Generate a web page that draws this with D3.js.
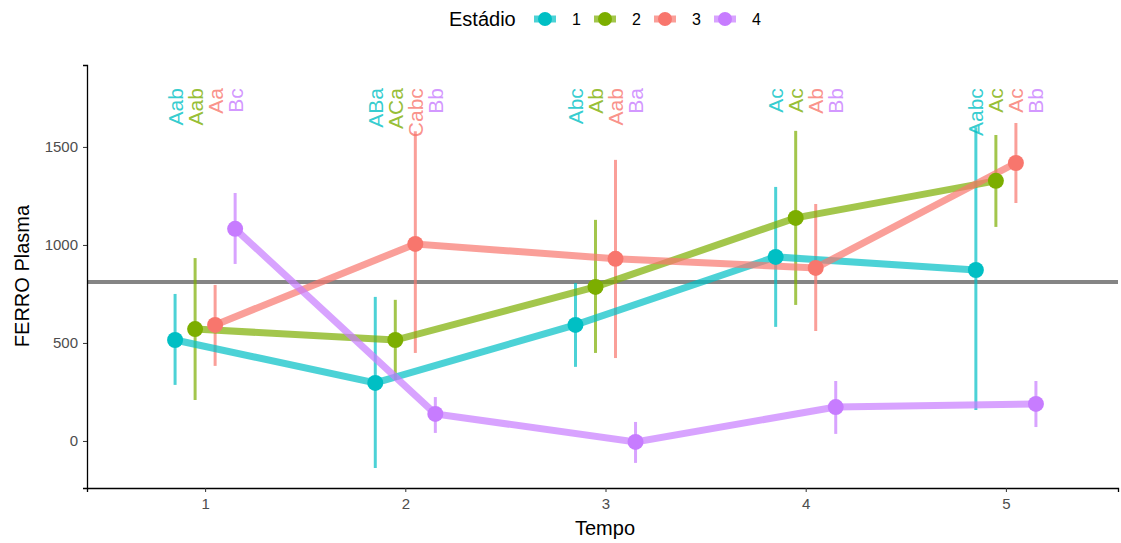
<!DOCTYPE html>
<html>
<head>
<meta charset="utf-8">
<script src="https://cdn.jsdelivr.net/npm/d3@7"></script>
<style>
  body { margin: 0; background: #fff; }
  text { font-family: "Liberation Sans", Arial, sans-serif; }
</style>
</head>
<body>
<svg id="chart" width="1121" height="543"></svg>
<script>
// data
var tempos = [1, 2, 3, 4, 5];
var estadios = ["1", "2", "3", "4"];
var cores = ["#00BFC4", "#7CAE00", "#F8766D", "#C77CFF"];

// mean, lower, upper per tempo for each estadio
var media1 = [515, 296, 592, 939, 872];
var inf1   = [286, -138, 378, 582, 158];
var sup1   = [750, 735, 806, 1296, 1600];

var media2 = [571, 515, 786, 1138, 1327];
var inf2   = [209, 311, 449, 694, 1092];
var sup2   = [933, 720, 1128, 1582, 1561];

var media3 = [592, 1005, 929, 883, 1418];
var inf3   = [383, 449, 423, 561, 1214];
var sup3   = [796, 1580, 1434, 1209, 1622];

var media4 = [1082, 138, -5, 173, 189];
var inf4   = [903, 41, -112, 36, 71];
var sup4   = [1265, 224, 97, 306, 306];

var letras1 = ["Aab", "ABa", "Abc", "Ac", "Aabc"];
var letras2 = ["Aab", "ACa", "Ab", "Ac", "Ac"];
var letras3 = ["Aa", "Cabc", "Aab", "Ab", "Ac"];
var letras4 = ["Bc", "Bb", "Ba", "Bb", "Bb"];

var referencia = 811;
var yTicks = [0, 500, 1000, 1500];
var posLetras = 1800;

var medias = [media1, media2, media3, media4];
var infs = [inf1, inf2, inf3, inf4];
var sups = [sup1, sup2, sup3, sup4];
var letras = [letras1, letras2, letras3, letras4];
var dodge = [-0.15, -0.05, 0.05, 0.15];

var series = estadios.map(function (e, i) {
    return {
        estadio: e, cor: cores[i],
        pontos: tempos.map(function (t, j) {
            return { t: t + dodge[i], m: medias[i][j], lo: infs[i][j], hi: sups[i][j], lab: letras[i][j] };
        })
    };
});

var svg = d3.select("#chart");

var x = d3.scaleLinear().domain([0.41, 5.56]).range([87, 1118]);
var y = d3.scaleLinear().domain([-240, 1918]).range([488, 65]);

// reference line
svg.append("line")
    .attr("x1", x.range()[0]).attr("x2", x.range()[1])
    .attr("y1", y(referencia)).attr("y2", y(referencia))
    .attr("stroke", "#333").attr("stroke-opacity", 0.6).attr("stroke-width", 4);

var g = svg.append("g");

// error bars
series.forEach(function (s) {
    g.selectAll(null).data(s.pontos).enter().append("line")
        .attr("x1", function (d) { return x(d.t) }).attr("x2", function (d) { return x(d.t) })
        .attr("y1", function (d) { return y(d.lo) }).attr("y2", function (d) { return y(d.hi) })
        .attr("stroke", s.cor).attr("stroke-width", 3).attr("stroke-opacity", 0.7);
});

// lines
var linha = d3.line().x(function (d) { return x(d.t) }).y(function (d) { return y(d.m) });
series.forEach(function (s) {
    g.append("path").datum(s.pontos)
        .attr("d", linha)
        .attr("fill", "none").attr("stroke", s.cor)
        .attr("stroke-width", 7).attr("stroke-opacity", 0.7);
});

// points
series.forEach(function (s) {
    g.selectAll(null).data(s.pontos).enter().append("circle")
        .attr("cx", function (d) { return x(d.t) }).attr("cy", function (d) { return y(d.m) })
        .attr("r", 8).attr("fill", s.cor);
});

// letters
series.forEach(function (s) {
    g.selectAll(null).data(s.pontos).enter().append("text")
        .attr("transform", function (d) { return "translate(" + (x(d.t) + 7.5) + "," + y(posLetras) + ") rotate(-90)" })
        .attr("text-anchor", "end")
        .style("font-size", "21px")
        .attr("fill", s.cor).attr("fill-opacity", 0.8)
        .text(function (d) { return d.lab });
});

// axes
var xAxis = svg.append("g").attr("transform", "translate(0,488)")
    .call(d3.axisBottom(x).tickValues(tempos).tickFormat(d3.format("d")).tickSizeOuter(0).tickSize(4).tickPadding(6));
var yAxis = svg.append("g").attr("transform", "translate(87,0)")
    .call(d3.axisLeft(y).tickValues(yTicks).tickFormat(d3.format("d")).tickSizeOuter(0).tickSize(4).tickPadding(5));
[xAxis, yAxis].forEach(function (a) {
    a.select(".domain").attr("stroke", "#000").attr("stroke-width", 1.3);
    a.selectAll(".tick line").attr("stroke", "#333");
    a.selectAll(".tick text").attr("fill", "#4d4d4d").style("font-size", "15px")
        .style("font-family", "'Liberation Sans', Arial, sans-serif");
});

svg.append("text").attr("x", 605).attr("y", 535).attr("text-anchor", "middle")
    .style("font-size", "20px").text("Tempo");
svg.append("text").attr("transform", "translate(29,276) rotate(-90)").attr("text-anchor", "middle")
    .style("font-size", "20px").text("FERRO Plasma");

// legend
svg.append("text").attr("x", 449).attr("y", 26).style("font-size", "20px").text("Estádio");
var leg = svg.selectAll(".leg").data(series).enter().append("g")
    .attr("transform", function (d, i) { return "translate(" + (545 + i * 60) + ",19)" });
leg.append("line").attr("x1", -11).attr("x2", 11)
    .attr("stroke", function (d) { return d.cor }).attr("stroke-width", 7).attr("stroke-opacity", 0.7);
leg.append("circle").attr("r", 7).attr("fill", function (d) { return d.cor });
leg.append("text").attr("x", 27).attr("y", 6).style("font-size", "16px")
    .text(function (d) { return d.estadio });
</script>
</body>
</html>
